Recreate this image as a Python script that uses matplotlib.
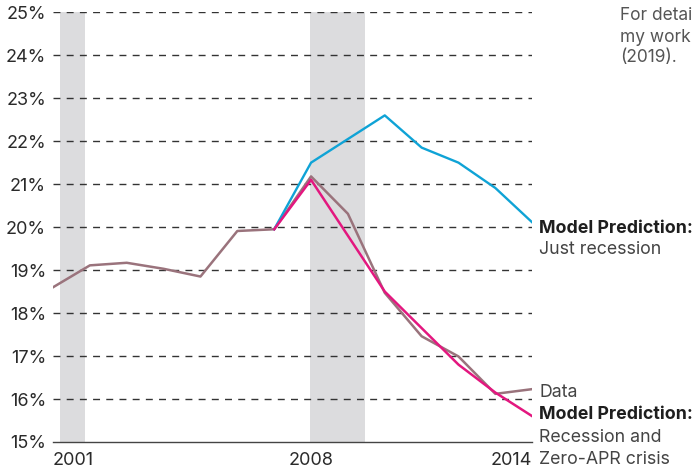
import matplotlib.pyplot as plt

plt.rcParams["font.family"] = ["Inter", "DejaVu Sans"]

# Data (share in %)
years = list(range(2001, 2015))
data = [18.60, 19.11, 19.17, 19.03, 18.85, 19.91, 19.95,
        21.18, 20.31, 18.47, 17.46, 16.99, 16.12, 16.23]

model_years = list(range(2007, 2015))
just_recession = [19.95, 21.50, 22.05, 22.60, 21.85, 21.50, 20.91, 20.11]
recession_zero_apr = [19.95, 21.10, 19.80, 18.50, 17.65, 16.80, 16.15, 15.60]

recessions = [(2001.18, 2001.87), (2007.97, 2009.45)]
y_ticks = list(range(15, 26))
x_ticks = [2001, 2008, 2014]

c_data = "#9a737c"
c_blue = "#0fa3d6"
c_pink = "#e3177f"
c_text = "#2a2a2a"

fig = plt.figure(figsize=(6.93, 4.71), dpi=100)
ax = fig.add_axes([0.0765, 0.0616, 0.6915, 0.9124])

# recession shading
for start, end in recessions:
    ax.axvspan(start, end, color="#dcdcde", lw=0, zorder=0)

# dashed grid
for y in y_ticks[1:]:
    ax.axhline(y, color="#333333", lw=1.0, ls=(0, (5, 4.5)), zorder=1)

ax.plot(years, data, color=c_data, lw=1.8, zorder=3)
ax.plot(model_years, just_recession, color=c_blue, lw=1.7, zorder=4)
ax.plot(model_years, recession_zero_apr, color=c_pink, lw=1.8, zorder=5)

ax.set_xlim(2001, 2014)
ax.set_ylim(15, 25)

for s in ["top", "right", "left"]:
    ax.spines[s].set_visible(False)
ax.spines["bottom"].set_color("#444444")
ax.spines["bottom"].set_linewidth(1.0)

ax.set_yticks(y_ticks)
ax.set_yticklabels([f"{y}%" for y in y_ticks])
ax.set_xticks(x_ticks)
ax.set_xticklabels([str(x) for x in x_ticks])
ax.tick_params(length=0, labelsize=13, colors=c_text)
ax.tick_params(axis="y", pad=5)
ax.tick_params(axis="x", pad=7)
xl = ax.get_xticklabels()
xl[0].set_ha("left")
xl[1].set_ha("center")
xl[2].set_ha("right")

# line labels at the right
fs = 12.8
ax.text(1.015, 0.497, "Model Prediction:", transform=ax.transAxes, fontsize=fs,
        fontweight="bold", color="#1e1e1e", va="center", clip_on=False)
ax.text(1.015, 0.447, "Just recession", transform=ax.transAxes, fontsize=fs,
        color="#444444", va="center", clip_on=False)
ax.text(1.015, 0.116, "Data", transform=ax.transAxes, fontsize=fs,
        color="#444444", va="center", clip_on=False)
ax.text(1.015, 0.065, "Model Prediction:", transform=ax.transAxes, fontsize=fs,
        fontweight="bold", color="#1e1e1e", va="center", clip_on=False)
ax.text(1.015, 0.011, "Recession and", transform=ax.transAxes, fontsize=fs,
        color="#444444", va="center", clip_on=False)
ax.text(1.015, -0.040, "Zero-APR crisis", transform=ax.transAxes, fontsize=fs,
        color="#444444", va="center", clip_on=False)

# cropped note in the top right corner
for i, line in enumerate(["For detai", "my work", "(2019)."]):
    fig.text(0.895, 1 - (16 + 21 * i) / 471, line, fontsize=12.5,
             color="#555555", va="center", ha="left")

fig.savefig("out.png", dpi=100)
